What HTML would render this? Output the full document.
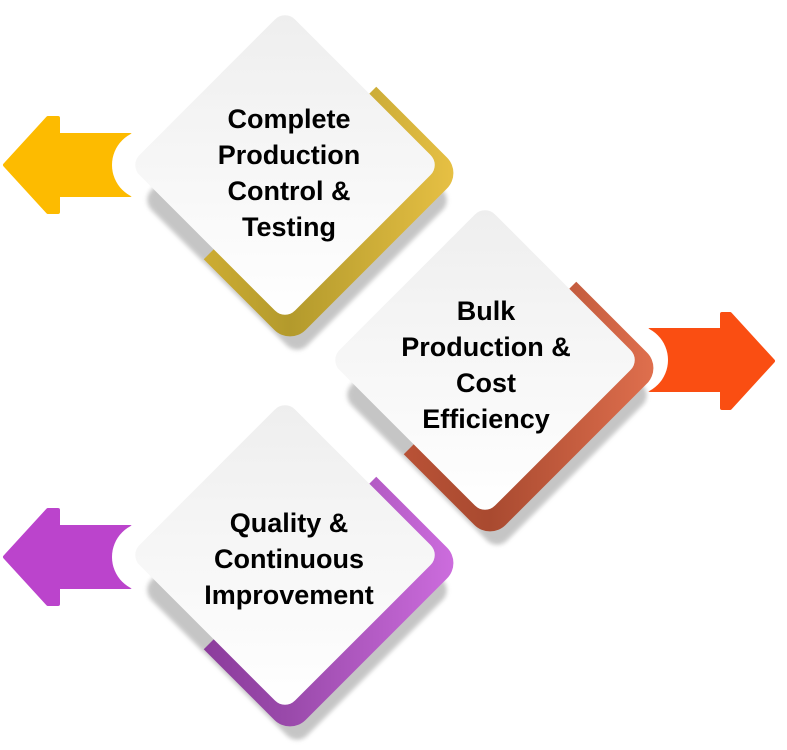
<!DOCTYPE html>
<html><head><meta charset="utf-8"><style>
html,body{margin:0;padding:0;background:#fff;width:787px;height:750px;overflow:hidden}
text{font-family:"Liberation Sans",sans-serif;font-weight:bold;font-size:27px;fill:#000;text-anchor:middle}
</style></head><body>
<svg width="787" height="750" viewBox="0 0 787 750" xmlns="http://www.w3.org/2000/svg">
<defs>
<linearGradient id="g1" x1="0" y1="1" x2="1" y2="0"><stop offset="0" stop-color="#e7bf3a"/><stop offset="0.5" stop-color="#b39a2c"/><stop offset="1" stop-color="#e9c245"/></linearGradient>
<linearGradient id="g2" x1="0" y1="1" x2="1" y2="0"><stop offset="0" stop-color="#c95a3c"/><stop offset="0.5" stop-color="#a94a30"/><stop offset="1" stop-color="#e2714f"/></linearGradient>
<linearGradient id="g3" x1="0" y1="1" x2="1" y2="0"><stop offset="0" stop-color="#7e2e8e"/><stop offset="0.5" stop-color="#9a4aab"/><stop offset="1" stop-color="#cf6ee0"/></linearGradient>
<linearGradient id="w" x1="0" y1="0" x2="1" y2="1"><stop offset="0" stop-color="#eeeeee"/><stop offset="1" stop-color="#ffffff"/></linearGradient>
<filter id="bl"><feGaussianBlur stdDeviation="2"/></filter>
<clipPath id="c1"><rect x="290" y="0" width="600" height="800"/></clipPath>
<clipPath id="c2"><rect x="490" y="0" width="600" height="900"/></clipPath>
</defs>

<!-- arrows -->
<polygon points="5,165 48,118 58,118 58,135 130,135 130,195 58,195 58,212 48,212" fill="#FDBB00" stroke="#FDBB00" stroke-width="4" stroke-linejoin="round"/>
<circle cx="147" cy="165" r="35" fill="#fff"/>
<polygon points="773,361 730,314 722,314 722,330 650,330 650,390 722,390 722,408 730,408" fill="#FA4E12" stroke="#FA4E12" stroke-width="4" stroke-linejoin="round"/>
<circle cx="633" cy="360" r="35" fill="#fff"/>
<polygon points="5,557 48,510 58,510 58,527 130,527 130,587 58,587 58,604 48,604" fill="#BB44CC" stroke="#BB44CC" stroke-width="4" stroke-linejoin="round"/>
<circle cx="147" cy="557" r="35" fill="#fff"/>

<!-- diamond 1 -->
<rect x="187" y="90" width="220" height="220" rx="14" fill="#bcbcbc" opacity="0.85" filter="url(#bl)" transform="rotate(45 297 200)"/>
<rect x="168" y="51" width="244" height="244" rx="22" fill="url(#g1)" clip-path="url(#c1)" transform="rotate(45 290 173)"/>
<rect x="175" y="55" width="220" height="220" rx="14" fill="url(#w)" transform="rotate(45 285 165)"/>
<text x="289" y="128">Complete</text>
<text x="289" y="164">Production</text>
<text x="289" y="200">Control &amp;</text>
<text x="289" y="236">Testing</text>

<!-- diamond 2 -->
<rect x="387" y="285" width="220" height="220" rx="14" fill="#bcbcbc" opacity="0.85" filter="url(#bl)" transform="rotate(45 497 395)"/>
<rect x="368" y="246" width="244" height="244" rx="22" fill="url(#g2)" clip-path="url(#c2)" transform="rotate(45 490 368)"/>
<rect x="375" y="250" width="220" height="220" rx="14" fill="url(#w)" transform="rotate(45 485 360)"/>
<text x="486" y="320">Bulk</text>
<text x="486" y="356">Production &amp;</text>
<text x="486" y="392">Cost</text>
<text x="486" y="428">Efficiency</text>

<!-- diamond 3 -->
<rect x="187" y="480" width="220" height="220" rx="14" fill="#bcbcbc" opacity="0.85" filter="url(#bl)" transform="rotate(45 297 590)"/>
<rect x="168" y="441" width="244" height="244" rx="22" fill="url(#g3)" clip-path="url(#c1)" transform="rotate(45 290 563)"/>
<rect x="175" y="445" width="220" height="220" rx="14" fill="url(#w)" transform="rotate(45 285 555)"/>
<text x="289" y="532">Quality &amp;</text>
<text x="289" y="568">Continuous</text>
<text x="289" y="604">Improvement</text>
</svg>
</body></html>
